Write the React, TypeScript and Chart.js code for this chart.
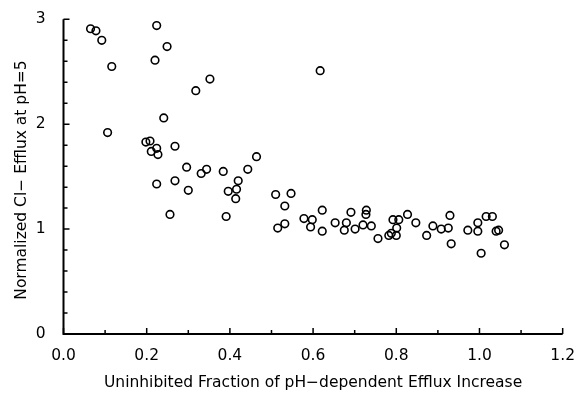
import React, { useEffect, useRef } from 'react';
import { Chart, registerables } from 'chart.js';

Chart.register(...registerables);

const xValues = [
  0.065, 0.078, 0.092, 0.116, 0.224, 0.249, 0.220, 0.241, 0.106, 0.198,
  0.208, 0.211, 0.224, 0.227, 0.268, 0.464, 0.296, 0.331, 0.344, 0.384,
  0.443, 0.420, 0.224, 0.268, 0.300, 0.396, 0.416, 0.414, 0.256, 0.391,
  0.318, 0.352, 0.617, 0.510, 0.547, 0.532, 0.515, 0.532, 0.578, 0.598,
  0.594, 0.622, 0.622, 0.653, 0.680, 0.675, 0.691, 0.701, 0.720, 0.728,
  0.727, 0.740, 0.756, 0.782, 0.788, 0.800, 0.801, 0.792, 0.806, 0.827,
  0.847, 0.873, 0.888, 0.908, 0.925, 0.929, 0.932, 0.972, 0.996, 0.996,
  1.016, 1.031, 1.040, 1.046, 1.004, 1.060,
];
const yValues = [
  2.91, 2.89, 2.80, 2.55, 2.94, 2.74, 2.61, 2.06, 1.92, 1.83,
  1.84, 1.74, 1.77, 1.71, 1.79, 1.69, 1.59, 1.53, 1.57, 1.55,
  1.57, 1.46, 1.43, 1.46, 1.37, 1.36, 1.38, 1.29, 1.14, 1.12,
  2.32, 2.43, 2.51, 1.33, 1.34, 1.22, 1.01, 1.05, 1.10, 1.09,
  1.02, 1.18, 0.98, 1.06, 1.06, 0.99, 1.16, 1.00, 1.04, 1.18,
  1.14, 1.03, 0.91, 0.94, 0.96, 0.94, 1.01, 1.09, 1.09, 1.14,
  1.06, 0.94, 1.03, 1.00, 1.01, 1.13, 0.86, 0.99, 1.06, 0.98,
  1.12, 1.12, 0.98, 0.99, 0.77, 0.85,
];

const xMajorTicks = [0, 0.2, 0.4, 0.6, 0.8, 1.0, 1.2];
const xMinorTicks = [0.1, 0.3, 0.5, 0.7, 0.9, 1.1];
const yMajorTicks = [0, 1, 2, 3];
const yMinorTicks = [0.2, 0.4, 0.6, 0.8, 1.2, 1.4, 1.6, 1.8, 2.2, 2.4, 2.6, 2.8];

const xTitle = 'Uninhibited Fraction of pH\u2212dependent Efflux Increase';
const yTitle = 'Normalized Cl\u2212 Efflux at pH=5';

const FONT = '"DejaVu Sans", sans-serif';

const axesPlugin = {
  id: 'customAxes',
  afterDraw(chart: any) {
    const ctx = chart.ctx;
    const xs = chart.scales.x;
    const ys = chart.scales.y;
    const x0 = xs.getPixelForValue(0);
    const x1 = xs.getPixelForValue(1.2);
    const y0 = ys.getPixelForValue(0);
    const y3 = ys.getPixelForValue(3);
    ctx.save();
    ctx.strokeStyle = '#000';
    ctx.lineWidth = 2;
    ctx.beginPath();
    ctx.moveTo(x0, y3);
    ctx.lineTo(x0, y0);
    ctx.lineTo(x1, y0);
    ctx.stroke();
    ctx.lineWidth = 1.5;
    ctx.beginPath();
    for (const v of xMajorTicks) {
      const p = xs.getPixelForValue(v);
      ctx.moveTo(p, y0);
      ctx.lineTo(p, y0 - 6);
    }
    for (const v of xMinorTicks) {
      const p = xs.getPixelForValue(v);
      ctx.moveTo(p, y0);
      ctx.lineTo(p, y0 - 4);
    }
    for (const v of yMajorTicks) {
      const p = ys.getPixelForValue(v);
      ctx.moveTo(x0, p);
      ctx.lineTo(x0 + 6, p);
    }
    for (const v of yMinorTicks) {
      const p = ys.getPixelForValue(v);
      ctx.moveTo(x0, p);
      ctx.lineTo(x0 + 4, p);
    }
    ctx.stroke();

    ctx.fillStyle = '#000';
    ctx.font = `15.5px ${FONT}`;
    ctx.textAlign = 'center';
    ctx.textBaseline = 'middle';
    ctx.fillText(xTitle, (x0 + x1) / 2, 383);
    ctx.translate(22, 180);
    ctx.rotate(-Math.PI / 2);
    ctx.fillText(yTitle, 0, 0);
    ctx.restore();
  },
};

export default function App() {
  const canvasRef = useRef<HTMLCanvasElement | null>(null);

  useEffect(() => {
    if (!canvasRef.current) return;
    const data = xValues.map((x, i) => ({ x, y: yValues[i] }));
    const chart = new Chart(canvasRef.current, {
      type: 'scatter',
      data: {
        datasets: [
          {
            data,
            pointStyle: 'circle',
            pointRadius: 3.8,
            pointHoverRadius: 3.8,
            pointBorderWidth: 1.6,
            borderColor: '#000',
            backgroundColor: 'rgba(0,0,0,0)',
          },
        ],
      },
      options: {
        animation: false,
        responsive: true,
        maintainAspectRatio: false,
        layout: { padding: { top: 13, right: 15, left: 0, bottom: 0 } },
        plugins: {
          legend: { display: false },
          tooltip: { enabled: false },
        },
        scales: {
          x: {
            type: 'linear',
            min: 0,
            max: 1.2,
            afterBuildTicks: (scale: any) => {
              scale.ticks = xMajorTicks.map((v) => ({ value: v }));
            },
            ticks: {
              callback: (v: any) => Number(v).toFixed(1),
              color: '#000',
              font: { family: FONT, size: 15.5 },
              padding: 5,
              maxRotation: 0,
            },
            grid: { display: false },
            border: { display: false },
            afterFit: (scale: any) => {
              scale.height = 60;
            },
          },
          y: {
            type: 'linear',
            min: 0,
            max: 3,
            afterBuildTicks: (scale: any) => {
              scale.ticks = yMajorTicks.map((v) => ({ value: v }));
            },
            ticks: {
              callback: (v: any) => String(v),
              color: '#000',
              font: { family: FONT, size: 15.5 },
              padding: 10,
            },
            grid: { display: false },
            border: { display: false },
            afterFit: (scale: any) => {
              scale.width = 63.5;
            },
          },
        },
      },
      plugins: [axesPlugin],
    });
    return () => chart.destroy();
  }, []);

  return (
    <div style={{ position: 'fixed', left: 0, top: 0, width: 580, height: 394, background: '#fff' }}>
      <canvas ref={canvasRef} />
    </div>
  );
}
